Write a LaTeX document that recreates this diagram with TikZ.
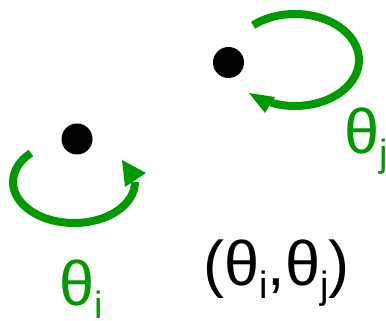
\documentclass[tikz,border=0pt]{standalone}
\usepackage{fontspec}
\setmainfont{Liberation Sans}
\definecolor{grn}{RGB}{0,153,0}
\newcommand{\thsub}[1]{θ\raisebox{-13pt}{\fontsize{38}{38}\selectfont #1}}
\begin{document}
\begin{tikzpicture}[x=1pt,y=1pt,
  dotnode/.style={circle,fill=black,inner sep=0pt,minimum size=31pt},
  arcline/.style={draw=grn,line width=8pt},
  head/.style={fill=grn},
  lab/.style={inner sep=0pt,font=\fontsize{63}{63}\selectfont}]
\useasboundingbox (0,0) rectangle (386,321);
\node[dotnode] (d1) at (77,182) {};
\node[dotnode] (d2) at (228.5,258.5) {};
\coordinate (c1) at (74,139);
\coordinate (c2) at (295,261);
\draw[arcline] (c1) ++(135:61 and 41) arc[start angle=135,end angle=360,x radius=61,y radius=41] coordinate (e1);
\fill[head] (122,161) -- (146,148) -- (125,134) -- cycle;
\draw[arcline] (c2) ++(131:64 and 46) arc[start angle=131,end angle=-112,x radius=64,y radius=46] coordinate (e2);
\fill[head] (249,228) -- (275,224) -- (265,208) -- cycle;
\node[lab,text=grn,anchor=base west] (ti) at (59,15) {\thsub{i}};
\node[lab,text=grn,anchor=base west] (tj) at (344,167) {\thsub{j}};
\node[lab,anchor=base west] (pair) at (203,35) {(\thsub{i},\thsub{j})};
\end{tikzpicture}
\end{document}
